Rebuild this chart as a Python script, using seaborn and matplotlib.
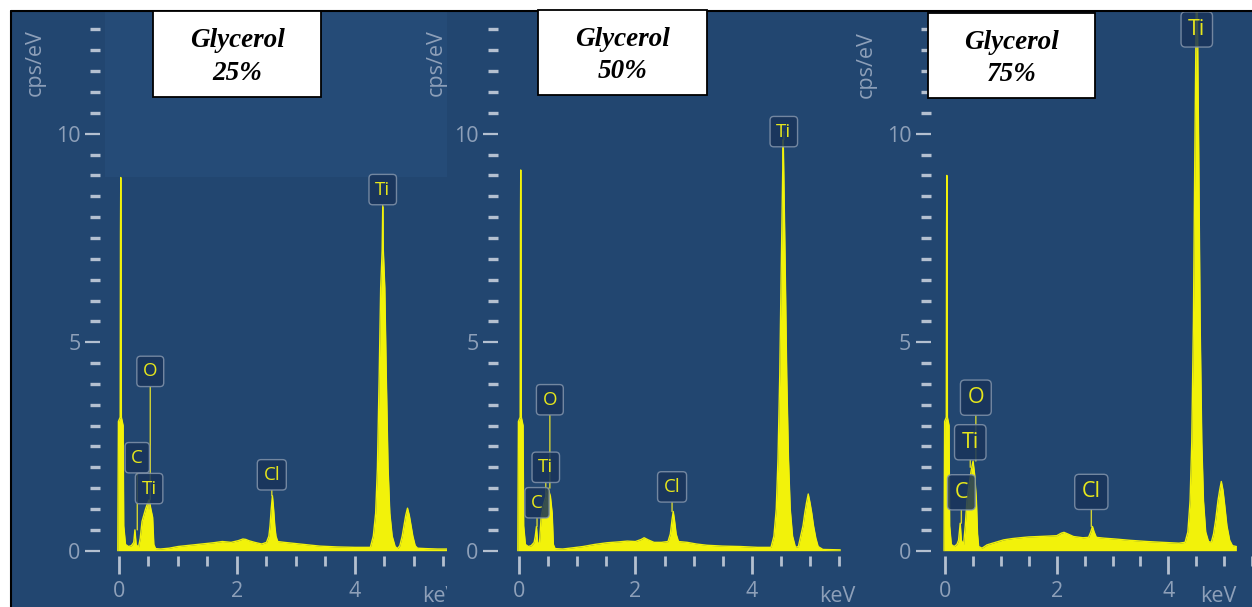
import numpy as np
import pandas as pd
import matplotlib
matplotlib.use("Agg")
import matplotlib.pyplot as plt
import seaborn as sns
from matplotlib.patches import Rectangle
from matplotlib.lines import Line2D

# panel titles
titles = ["Glycerol\n25%", "Glycerol\n50%", "Glycerol\n75%"]

# EDS spectra: (keV, cps/eV)
spec_25 = [(-0.02, 0.0), (-0.01, 3.1), (0.02, 3.2), (0.025, 7.6), (0.03, 8.95), (0.035, 7.6),
           (0.04, 3.2), (0.07, 3.0), (0.08, 0.6), (0.11, 0.15), (0.16, 0.1), (0.21, 0.12),
           (0.25, 0.2), (0.27, 0.5), (0.29, 0.15), (0.33, 0.08), (0.36, 0.3), (0.39, 0.7),
           (0.42, 0.85), (0.45, 1.0), (0.48, 1.12), (0.51, 1.22), (0.54, 1.0), (0.57, 0.8),
           (0.59, 0.15), (0.62, 0.05), (0.7, 0.04), (0.85, 0.06), (1.0, 0.1), (1.2, 0.13),
           (1.4, 0.16), (1.6, 0.19), (1.75, 0.22), (1.9, 0.2), (2.02, 0.24), (2.1, 0.28),
           (2.15, 0.27), (2.2, 0.24), (2.3, 0.2), (2.42, 0.16), (2.5, 0.2), (2.54, 0.35),
           (2.56, 0.6), (2.58, 1.0), (2.6, 1.32), (2.62, 1.0), (2.64, 0.6), (2.66, 0.35),
           (2.69, 0.22), (2.8, 0.2), (3.0, 0.17), (3.2, 0.14), (3.4, 0.11), (3.7, 0.09),
           (4.0, 0.08), (4.26, 0.08), (4.31, 0.35), (4.35, 0.9), (4.38, 2.0), (4.41, 4.2),
           (4.435, 6.3), (4.46, 7.2), (4.47, 8.25), (4.48, 7.2), (4.505, 6.3), (4.53, 4.2),
           (4.56, 2.0), (4.59, 0.9), (4.63, 0.35), (4.68, 0.1), (4.72, 0.05), (4.76, 0.12),
           (4.8, 0.35), (4.83, 0.6), (4.86, 0.85), (4.89, 1.02), (4.92, 0.85), (4.95, 0.6),
           (4.98, 0.35), (5.02, 0.12), (5.06, 0.06), (5.2, 0.05), (5.4, 0.04), (5.6, 0.04)]

spec_50 = [(-0.02, 0.0), (-0.01, 3.1), (0.02, 3.2), (0.025, 7.8), (0.03, 9.13), (0.035, 7.8),
           (0.04, 3.2), (0.07, 3.0), (0.08, 0.6), (0.11, 0.15), (0.16, 0.1), (0.21, 0.12),
           (0.26, 0.2), (0.28, 0.35), (0.30, 0.58), (0.32, 0.2), (0.35, 0.15), (0.38, 0.8),
           (0.42, 1.1), (0.46, 1.3), (0.5, 1.5), (0.54, 1.3), (0.57, 0.9), (0.59, 0.15),
           (0.62, 0.05), (0.75, 0.04), (0.93, 0.07), (1.1, 0.1), (1.3, 0.15), (1.51, 0.19),
           (1.7, 0.21), (1.86, 0.23), (2.0, 0.22), (2.1, 0.27), (2.15, 0.31), (2.22, 0.26),
           (2.32, 0.2), (2.45, 0.2), (2.56, 0.22), (2.6, 0.4), (2.63, 0.75), (2.65, 0.94),
           (2.67, 0.75), (2.7, 0.4), (2.74, 0.22), (2.89, 0.2), (3.05, 0.16), (3.23, 0.13),
           (3.5, 0.11), (3.8, 0.1), (4.1, 0.08), (4.33, 0.08), (4.38, 0.35), (4.42, 1.0),
           (4.45, 2.2), (4.48, 4.2), (4.505, 6.7), (4.53, 9.0), (4.54, 9.86), (4.55, 9.0),
           (4.575, 6.7), (4.6, 4.2), (4.63, 2.2), (4.66, 1.0), (4.7, 0.35), (4.75, 0.08),
           (4.8, 0.1), (4.84, 0.35), (4.88, 0.6), (4.91, 0.9), (4.94, 1.15), (4.97, 1.36),
           (5.0, 1.15), (5.03, 0.9), (5.06, 0.6), (5.1, 0.3), (5.14, 0.1), (5.22, 0.03),
           (5.52, 0.02)]

spec_75 = [(-0.02, 0.0), (-0.01, 3.1), (0.02, 3.2), (0.025, 7.7), (0.03, 9.0), (0.035, 7.7),
           (0.04, 3.2), (0.07, 3.0), (0.08, 0.6), (0.11, 0.15), (0.16, 0.1), (0.21, 0.15),
           (0.24, 0.25), (0.27, 0.66), (0.29, 0.25), (0.33, 0.15), (0.36, 0.6), (0.39, 1.2),
           (0.43, 1.6), (0.47, 1.95), (0.5, 2.15), (0.53, 1.8), (0.56, 1.2), (0.58, 0.4),
           (0.6, 0.1), (0.66, 0.06), (0.75, 0.14), (0.9, 0.2), (1.05, 0.26), (1.2, 0.29),
           (1.34, 0.31), (1.5, 0.33), (1.68, 0.34), (1.85, 0.35), (2.0, 0.36), (2.08, 0.42),
           (2.13, 0.44), (2.2, 0.4), (2.3, 0.34), (2.47, 0.31), (2.57, 0.32), (2.61, 0.45),
           (2.64, 0.58), (2.67, 0.45), (2.71, 0.32), (2.85, 0.3), (3.05, 0.28), (3.3, 0.25),
           (3.62, 0.22), (3.9, 0.2), (4.19, 0.18), (4.3, 0.2), (4.35, 0.45), (4.39, 1.2),
           (4.42, 2.6), (4.45, 5.5), (4.475, 9.5), (4.5, 13.0), (4.51, 14.5), (4.52, 13.0),
           (4.545, 9.5), (4.57, 5.5), (4.6, 2.6), (4.63, 1.2), (4.67, 0.45), (4.72, 0.22),
           (4.77, 0.2), (4.81, 0.4), (4.85, 0.75), (4.89, 1.2), (4.92, 1.45), (4.95, 1.66),
           (4.98, 1.45), (5.01, 1.1), (5.05, 0.6), (5.1, 0.25), (5.15, 0.12), (5.22, 0.1)]

# peak labels: (element, keV, label height, line end)
labels_25 = [("O", 0.53, 4.3, 1.22), ("C", 0.31, 2.23, 0.5), ("Ti", 0.51, 1.49, 1.0),
             ("Cl", 2.59, 1.82, 1.32), ("Ti", 4.47, 8.66, 8.25)]
labels_50 = [("Ti", 4.55, 10.05, 9.86), ("O", 0.53, 3.62, 1.5), ("Ti", 0.46, 2.0, 1.3),
             ("C", 0.31, 1.15, 0.58), ("Cl", 2.63, 1.53, 0.94)]
labels_75 = [("Ti", 4.51, 12.5, 12.0), ("O", 0.55, 3.67, 2.15), ("Ti", 0.45, 2.6, 2.0),
             ("C", 0.29, 1.4, 0.66), ("Cl", 2.62, 1.41, 0.58)]

spectra = [spec_25, spec_50, spec_75]
labels = [labels_25, labels_50, labels_75]

# layout in image pixels
W, H = 1252, 607
panel_px = [(12, 447), (447, 860), (860, 1252)]
zero_px = [119, 519, 949]
px_per_kev = [59.0, 58.2, 58.3]
yaxis_px = [100, 498, 934]
title_box_px = [(153, 11, 321, 97), (538, 10, 707, 95), (928, 13, 1095, 98)]
cps_px = [(35, 63), (436, 63), (866, 65)]
kev_px = [(440, 596), (837, 596), (1234, 596)]
label_size = [13.5, 13.5, 15.5]
y0_px, px_per_cps = 550.7, 41.7

bg = "#224670"
bg_light = "#254b77"
yellow = "#f2f20a"
tick_c = "#b4c0d0"
lab_c = "#8ea0b9"

sns.set_theme(style="ticks")
plt.rcParams["font.family"] = ["Open Sans", "DejaVu Sans"]

fig = plt.figure(figsize=(W / 100, H / 100), dpi=100)
fig.patch.set_facecolor("white")

for i in range(3):
    left, right = panel_px[i]
    z, s = zero_px[i], px_per_kev[i]
    ax = fig.add_axes([left / W, 0, (right - left) / W, (H - 12) / H])
    ax.set_facecolor(bg)
    ax.set_xlim((left - z) / s, (right - z) / s)
    ax.set_ylim((y0_px - H) / px_per_cps, (y0_px - 12) / px_per_cps)

    if i == 0:
        # lighter screen patch at top of the first panel
        ax.add_patch(Rectangle(((105 - z) / s, (y0_px - 177) / px_per_cps),
                               (447 - 105) / s, 170 / px_per_cps,
                               fc=bg_light, ec="none", zorder=0))

    df = pd.DataFrame(spectra[i], columns=["keV", "cps"])
    ax.fill_between(df["keV"], df["cps"], 0, color=yellow, lw=0, zorder=2)
    sns.lineplot(data=df, x="keV", y="cps", ax=ax, color=yellow, lw=1.0,
                 estimator=None, sort=False, zorder=3)

    for el, e, ly, ye in labels[i]:
        ax.annotate(el, xy=(e, ye), xytext=(e, ly), ha="center", va="center",
                    fontsize=label_size[i], color="#e6e61c", zorder=5,
                    bbox=dict(boxstyle="round,pad=0.33,rounding_size=0.2",
                              fc="#19345a", ec="#8394ab", lw=1.0, alpha=0.85),
                    arrowprops=dict(arrowstyle="-", color="#d2d232", lw=1.0,
                                    shrinkA=0, shrinkB=0))

    # axes styled like the EDS software
    for side in ["top", "right"]:
        ax.spines[side].set_visible(False)
    ax.spines["left"].set_position(("data", (yaxis_px[i] - z) / s))
    ax.spines["bottom"].set_position(("data", -0.12))
    ax.spines["left"].set_color("none")
    ax.spines["bottom"].set_color("none")

    ax.set_xticks([0, 2, 4])
    ax.set_xticks(np.arange(0, 5.6, 0.5), minor=True)
    ax.set_yticks([0, 5, 10])
    ax.set_yticks(np.arange(0, 12.6, 0.5), minor=True)
    ax.tick_params(axis="y", which="major", direction="out", length=11, width=1.6,
                   color=tick_c, labelcolor=lab_c, labelsize=15.5, pad=3)
    ax.tick_params(axis="y", which="minor", direction="out", length=7, width=2.4,
                   color=tick_c)
    ax.tick_params(axis="x", which="major", direction="out", length=13, width=2.0,
                   color=tick_c, labelcolor=lab_c, labelsize=15.5, pad=5)
    ax.tick_params(axis="x", which="minor", direction="out", length=7, width=2.0,
                   color=tick_c)
    ax.set_xlabel("")
    ax.set_ylabel("")
    ax.grid(False)

    kx, ky = kev_px[i]
    ax.text((kx - z) / s, (y0_px - ky) / px_per_cps, "keV", ha="center", va="center",
            fontsize=15.5, color=lab_c, clip_on=True, zorder=4)

for i in range(3):
    cx, cy = cps_px[i]
    fig.text(cx / W, 1 - cy / H, "cps/eV", rotation=90, ha="center", va="center",
             fontsize=15.5, color=lab_c, zorder=4)

    x0, y0, x1, y1 = title_box_px[i]
    fig.add_artist(Rectangle((x0 / W, 1 - y1 / H), (x1 - x0) / W, (y1 - y0) / H,
                             transform=fig.transFigure, fc="white", ec="black",
                             lw=1.3, zorder=6))
    fig.text((x0 + x1) / 2 / W, 1 - ((y0 + y1) / 2 + 3) / H, titles[i], ha="center",
             va="center", fontsize=19.5, fontweight="bold", fontstyle="italic",
             color="black", family=["Liberation Serif", "DejaVu Serif"],
             linespacing=1.4, zorder=7)

# black frame around the composite
fig.add_artist(Line2D([11 / W, 1], [1 - 11 / H, 1 - 11 / H], color="black", lw=1.5,
                      transform=fig.transFigure, zorder=5))
fig.add_artist(Line2D([11 / W, 11 / W], [0, 1 - 11 / H], color="black", lw=1.5,
                      transform=fig.transFigure, zorder=5))

fig.savefig("out.png", dpi=100, facecolor="white")
